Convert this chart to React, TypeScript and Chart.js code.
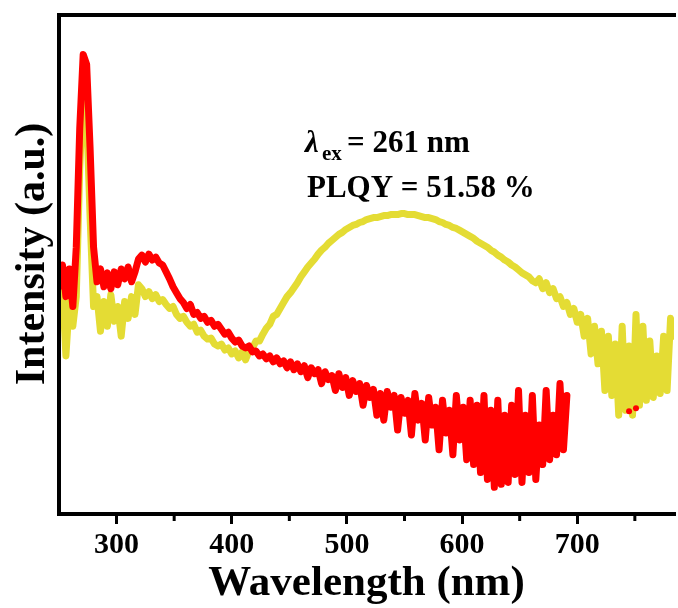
import { useEffect, useRef } from 'react';
import { Chart, registerables } from 'chart.js';

Chart.register(...registerables);

const FONT = "'Liberation Serif', 'Times New Roman', serif";

// Wavelength grid (nm)
const wavelengths = [
  250, 253, 256, 259, 262, 265, 268, 271, 274, 277, 280, 283, 286, 289, 292, 295, 298, 301, 304, 307,
  310, 313, 316, 319, 322, 325, 328, 331, 334, 337, 340, 343, 346, 349, 352, 355, 358, 361, 364, 367,
  370, 373, 376, 379, 382, 385, 388, 391, 394, 397, 400, 403, 406, 409, 412, 415, 418, 421, 424, 427,
  430, 433, 436, 439, 442, 445, 448, 451, 454, 457, 460, 463, 466, 469, 472, 475, 478, 481, 484, 487,
  490, 493, 496, 499, 502, 505, 508, 511, 514, 517, 520, 523, 526, 529, 532, 535, 538, 541, 544, 547,
  550, 553, 556, 559, 562, 565, 568, 571, 574, 577, 580, 583, 586, 589, 592, 595, 598, 601, 604, 607,
  610, 613, 616, 619, 622, 625, 628, 631, 634, 637, 640, 643, 646, 649, 652, 655, 658, 661, 664, 667,
  670, 673, 676, 679, 682, 685, 688, 691, 694, 697, 700, 703, 706, 709, 712, 715, 718, 721, 724, 727,
  730, 733, 736, 739, 742, 745, 748, 751, 754, 757, 760, 763, 766, 769, 772, 775, 778, 781, 784,
];

// Red spectrum (a.u.), measured up to 691 nm
const redIntensity = [
  230, 252, 220, 248, 210, 270, 390, 465, 455, 370,
  270, 235, 248, 230, 244, 228, 245, 232, 248, 238,
  250, 235, 245, 258, 262, 255, 263, 257, 260, 254,
  252, 245, 238, 230, 224, 218, 214, 208, 212, 202,
  204, 198, 200, 194, 196, 190, 192, 187, 182, 184,
  178, 174, 176, 170, 168, 170, 164, 165, 160, 162,
  157, 160, 154, 158, 152, 155, 148, 154, 146, 152,
  144, 150, 138, 148, 142, 146, 132, 144, 136, 140,
  125, 142, 128, 138, 120, 135, 124, 132, 110, 130,
  118, 126, 100, 122, 95, 124, 108, 120, 85, 118,
  102, 115, 80, 122, 95, 112, 75, 118, 90, 108,
  65, 115, 82, 105, 60, 120, 75, 108, 55, 115,
  50, 110, 42, 120, 35, 105, 27, 115, 30, 100,
  32, 110, 40, 125, 32, 100, 42, 120, 35, 90,
  50, 125, 55, 100, 60, 132, 65, 120,
];

// Yellow spectrum (a.u.)
const yellowIntensity = [
  220, 230, 160, 215, 190, 220, 350, 430, 405, 300,
  210, 220, 185, 215, 190, 222, 195, 210, 180, 215,
  198, 220, 202, 232, 228, 220, 225, 218, 222, 215,
  217, 212, 208, 210, 202, 198, 200, 194, 190, 192,
  184, 186, 180, 177, 178, 172, 170, 172, 166, 168,
  162, 165, 158, 164, 156, 165, 168, 175, 175, 182,
  188, 192, 200, 202, 208, 214, 220, 224, 229, 234,
  240, 245, 250, 254, 258, 263, 267, 270, 274, 277,
  280, 283, 285, 288, 290, 292, 293, 295, 296, 298,
  299, 300, 300, 301, 302, 302, 303, 303, 303, 304,
  304, 303, 303, 303, 302, 301, 300, 300, 299, 298,
  296, 295, 293, 292, 290, 289, 287, 285, 283, 281,
  279, 276, 274, 272, 270, 267, 265, 262, 260, 257,
  255, 252, 250, 247, 244, 242, 240, 236, 234, 238,
  228, 234, 224, 228, 218, 220, 210, 214, 202, 208,
  194, 202, 180, 198, 162, 190, 152, 185, 125, 180,
  120, 172, 100, 190, 105, 170, 100, 202, 110, 190,
  115, 175, 118, 160, 122, 180, 125, 198, 180,
];

// Isolated red points beyond the main red trace
const redDotWavelengths = [745, 751];
const redDotIntensity = [104, 107];

const majorTicks = [300, 400, 500, 600, 700];
const minorTicks = [350, 450, 550, 650, 750];

const X_MIN = 250;
const X_MAX = 784;
const Y_MIN = 0;
const Y_MAX = 505;

const RED = '#FF0000';
const YELLOW = '#E4DC34';

export default function App() {
  const ref = useRef<HTMLCanvasElement>(null);

  useEffect(() => {
    const canvas = ref.current;
    if (!canvas) return;

    const decor = {
      id: 'decor',
      afterDraw(chart: any) {
        const { ctx, chartArea: a, scales } = chart;
        const x = scales.x;
        ctx.save();
        ctx.strokeStyle = '#000';
        ctx.lineCap = 'butt';
        // left and top frame
        ctx.lineWidth = 4;
        ctx.beginPath();
        ctx.moveTo(a.left, a.bottom + 2);
        ctx.lineTo(a.left, a.top);
        ctx.lineTo(a.right + 2, a.top);
        ctx.stroke();
        // minor ticks
        ctx.lineWidth = 3;
        for (const v of minorTicks) {
          const px = x.getPixelForValue(v);
          ctx.beginPath();
          ctx.moveTo(px, a.bottom);
          ctx.lineTo(px, a.bottom + 7);
          ctx.stroke();
        }
        // y title
        ctx.fillStyle = '#000';
        ctx.save();
        ctx.translate(33, 254);
        ctx.rotate(-Math.PI / 2);
        ctx.font = `bold 42px ${FONT}`;
        ctx.textAlign = 'center';
        ctx.textBaseline = 'middle';
        ctx.fillText('Intensity (a.u.)', 0, 0);
        ctx.restore();
        // annotation
        ctx.textAlign = 'left';
        ctx.textBaseline = 'alphabetic';
        ctx.font = `italic bold 31px ${FONT}`;
        ctx.fillText('λ', 305, 152);
        ctx.font = `bold 21px ${FONT}`;
        ctx.fillText('ex', 322, 160);
        ctx.font = `bold 31px ${FONT}`;
        ctx.fillText('= 261 nm', 347, 152);
        ctx.fillText('PLQY = 51.58 %', 307, 197);
        ctx.restore();
      },
    };

    const redPoints = redIntensity.map((v, i) => ({ x: wavelengths[i], y: v }));
    const yellowPoints = yellowIntensity.map((v, i) => ({ x: wavelengths[i], y: v }));
    const dotPoints = redDotIntensity.map((v, i) => ({ x: redDotWavelengths[i], y: v }));

    const lineStyle = {
      borderWidth: 7,
      pointRadius: 0,
      borderJoinStyle: 'round' as const,
      borderCapStyle: 'round' as const,
      fill: false,
      tension: 0,
    };

    const chart = new Chart(canvas, {
      type: 'line',
      data: {
        datasets: [
          { label: 'red', data: redPoints, borderColor: RED, ...lineStyle },
          {
            label: 'red dots',
            data: dotPoints,
            showLine: false,
            pointRadius: 3,
            pointBorderWidth: 0,
            pointBackgroundColor: RED,
            borderColor: RED,
          },
          { label: 'yellow', data: yellowPoints, borderColor: YELLOW, ...lineStyle },
        ],
      },
      options: {
        animation: false,
        responsive: false,
        devicePixelRatio: 1,
        layout: { padding: { left: 59, top: 15, right: 0, bottom: 0 } },
        plugins: { legend: { display: false }, tooltip: { enabled: false } },
        events: [],
        scales: {
          x: {
            type: 'linear',
            min: X_MIN,
            max: X_MAX,
            afterBuildTicks(scale: any) {
              scale.ticks = majorTicks.map((v) => ({ value: v }));
            },
            grid: {
              display: true,
              drawOnChartArea: false,
              drawTicks: true,
              tickLength: 10,
              lineWidth: 3,
              color: '#000',
            },
            border: { display: true, color: '#000', width: 4 },
            ticks: {
              autoSkip: false,
              maxRotation: 0,
              padding: 6,
              color: '#000',
              font: { family: FONT, size: 30, weight: 'bold', lineHeight: '30px' },
            },
            title: {
              display: true,
              text: 'Wavelength (nm)',
              color: '#000',
              font: { family: FONT, size: 43, weight: 'bold', lineHeight: '36px' },
              padding: { top: 0, bottom: 6 },
            },
          },
          y: {
            type: 'linear',
            min: Y_MIN,
            max: Y_MAX,
            display: false,
          },
        },
      },
      plugins: [decor],
    });

    return () => chart.destroy();
  }, []);

  return (
    <div style={{ position: 'absolute', left: 0, top: 0, width: 678, height: 608, background: '#fff' }}>
      <canvas ref={ref} width={678} height={608} style={{ width: 678, height: 608, display: 'block' }} />
    </div>
  );
}
